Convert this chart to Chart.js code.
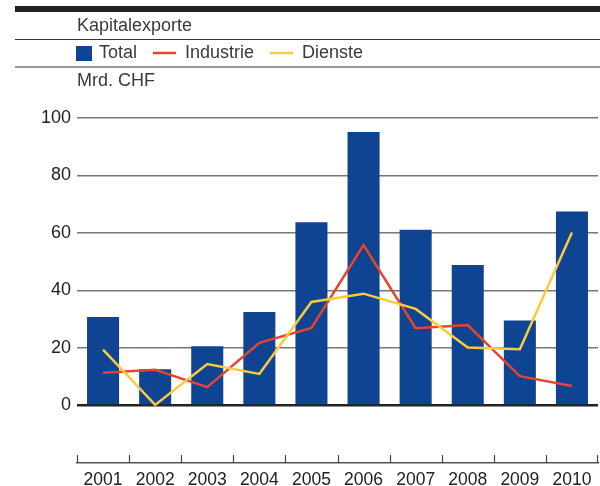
<!DOCTYPE html>
<html>
<head>
<meta charset="utf-8">
<script src="https://cdn.jsdelivr.net/npm/chart.js@4/dist/chart.umd.min.js"></script>
<style>
  html, body { margin: 0; padding: 0; background: #fff; }
  #wrap { position: relative; width: 600px; height: 486px; }
</style>
</head>
<body>
<div id="wrap"><canvas id="chart"></canvas></div>
<script>
// data (Mrd. CHF)
const years = ["2001", "2002", "2003", "2004", "2005", "2006", "2007", "2008", "2009", "2010"];
const total = [30.8, 12.6, 20.6, 32.5, 63.7, 95.1, 61.1, 48.9, 29.6, 67.5];
const industrie = [11.4, 12.4, 6.4, 21.8, 27, 55.8, 26.9, 28, 10.2, 6.8];
const dienste = [19.4, 0.2, 14.4, 11, 36, 38.9, 33.6, 20.2, 19.6, 60.2];

const blue = "#0f4493";
const red = "#e8432b";
const yellow = "#fbcb3c";
const font = "'Liberation Sans', Arial, sans-serif";

// header: black bar, title, legend, unit
const headerPlugin = {
  id: "header",
  afterDraw(chart) {
    const ctx = chart.ctx;
    const ds = chart.data.datasets;
    ctx.save();
    ctx.fillStyle = "#222";
    ctx.fillRect(15, 6, 585, 6);
    ctx.strokeStyle = "#333";
    ctx.lineWidth = 1.2;
    [39.5, 67].forEach((y) => {
      ctx.beginPath();
      ctx.moveTo(15, y);
      ctx.lineTo(600, y);
      ctx.stroke();
    });
    ctx.font = "18px " + font;
    ctx.fillStyle = "#3a3a3a";
    ctx.textBaseline = "middle";
    ctx.fillText("Kapitalexporte", 77, 26);
    ctx.fillText("Mrd. CHF", 77, 81);

    // legend
    ctx.fillStyle = ds[2].backgroundColor;
    ctx.fillRect(76, 46, 16, 15);
    ctx.fillStyle = "#3a3a3a";
    ctx.fillText(ds[2].label, 99, 53.5);
    ctx.lineWidth = 2.5;
    ctx.strokeStyle = ds[0].borderColor;
    ctx.beginPath();
    ctx.moveTo(153, 53);
    ctx.lineTo(176, 53);
    ctx.stroke();
    ctx.fillText(ds[0].label, 185, 53.5);
    ctx.strokeStyle = ds[1].borderColor;
    ctx.beginPath();
    ctx.moveTo(270, 53);
    ctx.lineTo(293, 53);
    ctx.stroke();
    ctx.fillText(ds[1].label, 302, 53.5);

    // upward tick marks on the year axis
    const x = chart.scales.x;
    const half = (x.getPixelForValue(1) - x.getPixelForValue(0)) / 2;
    ctx.strokeStyle = "#444";
    ctx.lineWidth = 1.2;
    for (let i = 0; i <= years.length; i++) {
      const px = Math.round(x.getPixelForValue(i) - half) + 0.5;
      ctx.beginPath();
      ctx.moveTo(Math.min(px, x.right - 0.5), x.top - 8);
      ctx.lineTo(Math.min(px, x.right - 0.5), x.top);
      ctx.stroke();
    }
    ctx.restore();
  },
};

new Chart(document.getElementById("chart"), {
  data: {
    labels: years,
    datasets: [
      {
        type: "line",
        label: "Industrie",
        data: industrie,
        borderColor: red,
        borderWidth: 2.5,
        pointRadius: 0,
        tension: 0,
        order: 2,
      },
      {
        type: "line",
        label: "Dienste",
        data: dienste,
        borderColor: yellow,
        borderWidth: 2.5,
        pointRadius: 0,
        tension: 0,
        order: 1,
      },
      {
        type: "bar",
        label: "Total",
        data: total,
        backgroundColor: blue,
        categoryPercentage: 1,
        barPercentage: 0.615,
        order: 3,
      },
    ],
  },
  options: {
    responsive: true,
    maintainAspectRatio: false,
    animation: false,
    layout: { padding: { top: 118, right: 2, left: 0, bottom: 0 } },
    plugins: { legend: { display: false }, tooltip: { enabled: false } },
    scales: {
      x: {
        offset: true,
        grid: { display: false, drawTicks: false },
        border: { display: true, color: "#555", width: 1.5 },
        ticks: {
          color: "#222",
          padding: 7,
          font: { family: font, size: 17.5 },
        },
        afterFit(scale) {
          scale.height = 23;
        },
      },
      y: {
        min: -20,
        max: 100,
        border: { display: false },
        grid: {
          drawTicks: false,
          color: (c) => (c.tick && c.tick.value === 0 ? "#222" : "#777"),
          lineWidth: (c) => (c.tick && c.tick.value === 0 ? 2.5 : 1.5),
        },
        ticks: {
          stepSize: 20,
          padding: 6,
          color: "#222",
          font: { family: font, size: 18 },
          callback: (v) => (v < 0 ? null : v),
        },
        afterFit(scale) {
          scale.width = 77;
        },
      },
    },
  },
  plugins: [headerPlugin],
});
</script>
</body>
</html>
